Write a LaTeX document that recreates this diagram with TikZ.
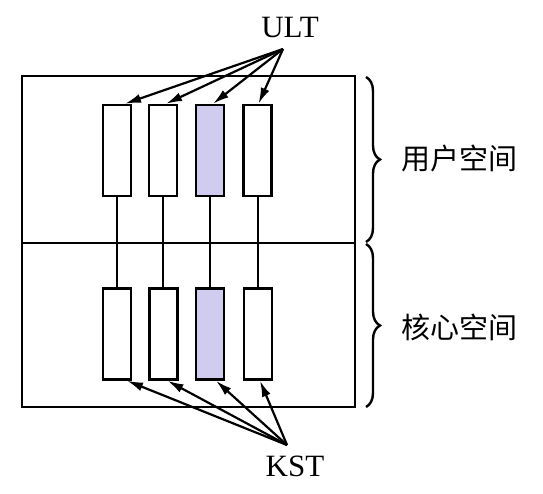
\documentclass[tikz,border=0pt]{standalone}
\usepackage{fontspec}
\setmainfont{Liberation Serif}
\newfontfamily\cjk{Noto Sans CJK SC}
\usetikzlibrary{arrows.meta,decorations.pathreplacing}
\definecolor{lav}{HTML}{D0CCF0}
\begin{document}
\begin{tikzpicture}[x=1pt,y=-1pt,
  thr/.style={draw,line width=2.5pt,minimum width=28pt,minimum height=91pt,inner sep=0pt,fill=white},
  ln/.style={line width=2.5pt},
  cn/.style={line width=2pt},
  arr/.style={line width=2.2pt,-{Latex[length=16pt,width=9pt]}},
  brc/.style={line width=2.4pt,decorate,decoration={brace,amplitude=14pt}},
  lbl/.style={font=\fontsize{31}{31}\selectfont},
  clbl/.style={font=\cjk\fontsize{29}{29}\selectfont}]
\useasboundingbox (0,0) rectangle (543,494);
% outer box
\draw[ln] (22,76) rectangle (355,407);
\draw[ln] (22,243) -- (355,243);
% upper threads
\node[thr] (u1) at (117,150.5) {};
\node[thr] (u2) at (163,150.5) {};
\node[thr,fill=lav] (u3) at (210,150.5) {};
\node[thr] (u4) at (257.5,150.5) {};
% lower threads
\node[thr] (k1) at (117,334) {};
\node[thr] (k2) at (163.5,334) {};
\node[thr,fill=lav] (k3) at (210,334) {};
\node[thr] (k4) at (258,334) {};
% connections
\foreach \i in {1,...,4} \draw[cn] (u\i.south) -- (u\i.south |- k\i.north);
% labels
\node[lbl] (ult) at (290,28) {ULT};
\node[lbl] (kst) at (295,466) {KST};
\coordinate (uo) at (283,49);
\coordinate (ko) at (287,445);
\draw[arr] (uo) -- ([xshift=8pt]u1.north);
\draw[arr] (uo) -- ([xshift=3pt]u2.north);
\draw[arr] (uo) -- ([xshift=3pt]u3.north);
\draw[arr] (uo) -- ([xshift=1pt]u4.north);
\draw[arr] (ko) -- ([xshift=10pt]k1.south);
\draw[arr] (ko) -- ([xshift=4pt]k2.south);
\draw[arr] (ko) -- ([xshift=6pt]k3.south);
\draw[arr] (ko) -- ([xshift=2pt]k4.south);
% braces
\coordinate (b1) at (366,77);
\coordinate (b2) at (366,242);
\coordinate (b3) at (366,244);
\coordinate (b4) at (366,407);
\draw[brc] (b1) -- (b2);
\draw[brc] (b3) -- (b4);
\node[clbl,anchor=west] (us) at (398,158) {用户空间};
\node[clbl,anchor=west] (ks) at (398,327) {核心空间};
\end{tikzpicture}
\end{document}
